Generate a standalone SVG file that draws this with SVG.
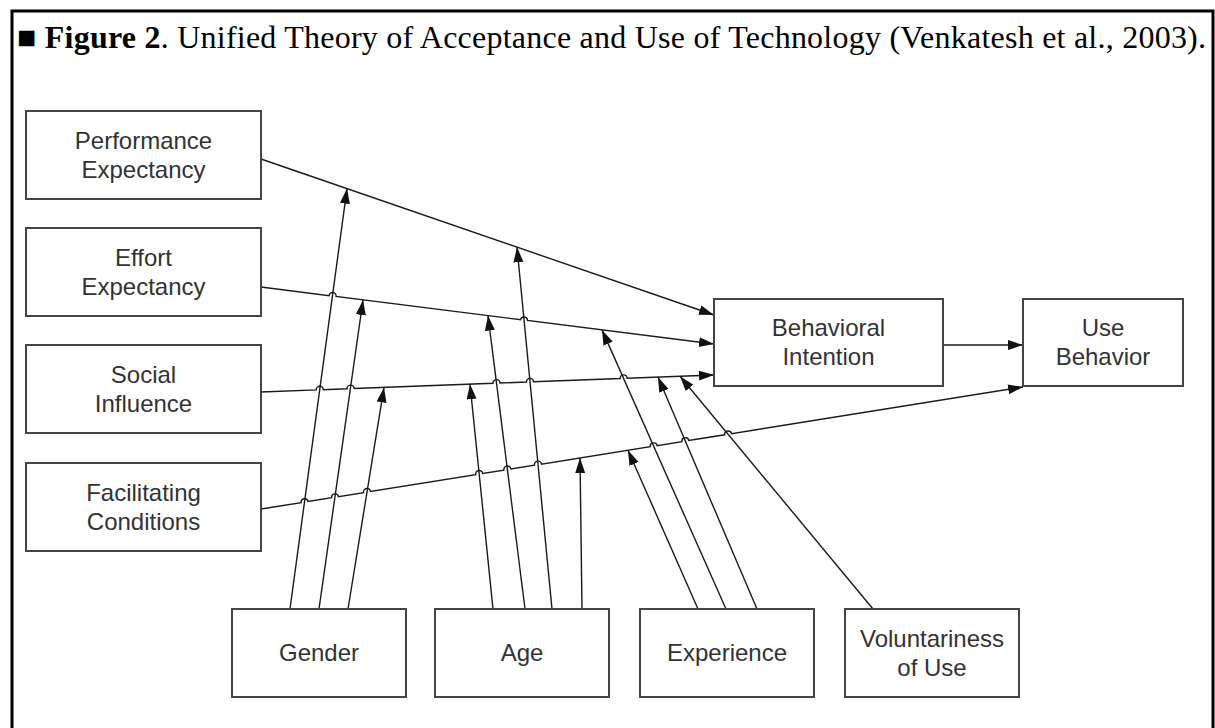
<svg xmlns="http://www.w3.org/2000/svg" width="1215" height="728" viewBox="0 0 1215 728">
<defs>
<marker id="ah" markerUnits="userSpaceOnUse" markerWidth="16" markerHeight="11" refX="15" refY="5" orient="auto">
<path d="M0,0 L15,5 L0,10 z" fill="#111"/>
</marker>
<style>
.box{fill:#fff;stroke:#444;stroke-width:2}
.lbl{font-family:"Liberation Sans",Arial,sans-serif;font-size:24px;fill:#333;text-anchor:middle}
.ln{fill:none;stroke:#1a1a1a;stroke-width:1.4;marker-end:url(#ah)}
.title{font-family:"Liberation Serif","Times New Roman",serif;font-size:32px;fill:#000}
</style>
</defs>
<rect x="0" y="0" width="1215" height="728" fill="#fff"/>
<rect x="12" y="11" width="1201" height="740" fill="none" stroke="#000" stroke-width="3"/>
<text class="title" x="17" y="48" textLength="1189" lengthAdjust="spacing">■ <tspan font-weight="bold">Figure 2</tspan>. Unified Theory of Acceptance and Use of Technology (Venkatesh et al., 2003).</text>

<g id="connectors">
<path class="ln" d="M261,159 L714,315"/>
<path class="ln" d="M261,287 L329.1,295.6 A3.5,3.5 0 0 1 336.1,296.5 L520.6,319.7 A3.5,3.5 0 0 1 527.5,320.5 L714,344"/>
<path class="ln" d="M261,392 L316.3,389.9 A3.5,3.5 0 0 1 323.3,389.7 L347.1,388.8 A3.5,3.5 0 0 1 354.1,388.5 L493,383.3 A3.5,3.5 0 0 1 500,383 L526.5,382 A3.5,3.5 0 0 1 533.5,381.8 L620.1,378.5 A3.5,3.5 0 0 1 627.1,378.3 L714,375"/>
<path class="ln" d="M261,509 L301.1,502.6 A3.5,3.5 0 0 1 308,501.5 L331.6,497.7 A3.5,3.5 0 0 1 338.5,496.6 L363.5,492.6 A3.5,3.5 0 0 1 370.5,491.5 L475.7,474.6 A3.5,3.5 0 0 1 482.7,473.5 L503.9,470.1 A3.5,3.5 0 0 1 510.9,469 L534.5,465.2 A3.5,3.5 0 0 1 541.5,464.1 L650.2,446.7 A3.5,3.5 0 0 1 657.1,445.6 L681.9,441.6 A3.5,3.5 0 0 1 688.8,440.5 L724.6,434.8 A3.5,3.5 0 0 1 731.5,433.7 L1023,387"/>
<path class="ln" d="M943,345 L1023,345"/>
<path class="ln" d="M290,609 L347,188.6"/>
<path class="ln" d="M319,609 L363,300"/>
<path class="ln" d="M348,609 L384,387.4"/>
<path class="ln" d="M493,609 L470,384.2"/>
<path class="ln" d="M525,609 L488,315.6"/>
<path class="ln" d="M552,609 L517,247.2"/>
<path class="ln" d="M582,609 L580,458"/>
<path class="ln" d="M698,609 L628,450.2"/>
<path class="ln" d="M726,609 L602,329.9"/>
<path class="ln" d="M757,609 L658,377.1"/>
<path class="ln" d="M873,609 L680,376.3"/>
</g>

<g id="pe"><rect class="box" x="26" y="111" width="235" height="88"/><text class="lbl" x="143.5" y="149">Performance</text><text class="lbl" x="143.5" y="178">Expectancy</text></g>
<g id="ee"><rect class="box" x="26" y="228" width="235" height="88"/><text class="lbl" x="143.5" y="266">Effort</text><text class="lbl" x="143.5" y="295">Expectancy</text></g>
<g id="si"><rect class="box" x="26" y="345" width="235" height="88"/><text class="lbl" x="143.5" y="383">Social</text><text class="lbl" x="143.5" y="412">Influence</text></g>
<g id="fc"><rect class="box" x="26" y="463" width="235" height="88"/><text class="lbl" x="143.5" y="501">Facilitating</text><text class="lbl" x="143.5" y="530">Conditions</text></g>
<g id="bi"><rect class="box" x="714" y="299" width="229" height="87"/><text class="lbl" x="828.5" y="336">Behavioral</text><text class="lbl" x="828.5" y="365">Intention</text></g>
<g id="ub"><rect class="box" x="1023" y="299" width="160" height="87"/><text class="lbl" x="1103" y="336">Use</text><text class="lbl" x="1103" y="365">Behavior</text></g>
<g id="gender"><rect class="box" x="232" y="609" width="174" height="88"/><text class="lbl" x="319" y="661">Gender</text></g>
<g id="age"><rect class="box" x="435" y="609" width="174" height="88"/><text class="lbl" x="522" y="661">Age</text></g>
<g id="experience"><rect class="box" x="640" y="609" width="174" height="88"/><text class="lbl" x="727" y="661">Experience</text></g>
<g id="voluntariness"><rect class="box" x="845" y="609" width="174" height="88"/><text class="lbl" x="932" y="647">Voluntariness</text><text class="lbl" x="932" y="676">of Use</text></g>
</svg>
